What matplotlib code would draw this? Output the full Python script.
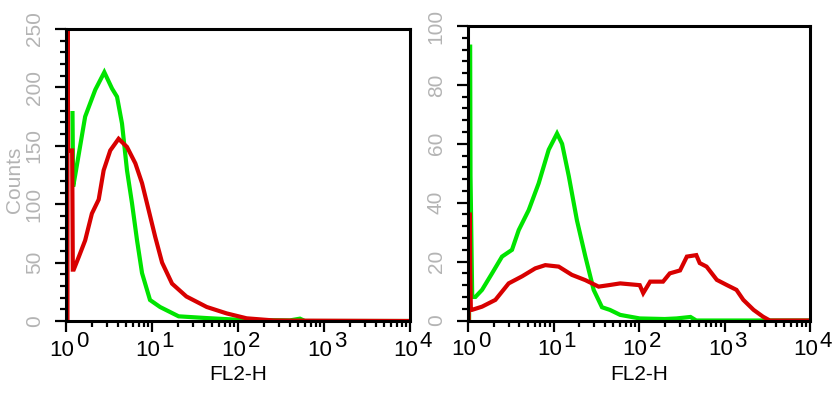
import matplotlib
matplotlib.use("Agg")
import matplotlib.pyplot as plt
from matplotlib.ticker import FixedLocator, NullFormatter, MultipleLocator

plt.rcParams['font.family'] = ['Liberation Sans', 'DejaVu Sans']

# ---------------- data (FL2-H channel value, counts) ----------------
left_green_x = [1.19, 1.21, 1.28, 1.67, 2.19, 2.79, 3.43, 3.92, 4.48, 5.12, 5.85,
                6.70, 7.66, 9.48, 12.4, 20.4, 43.3, 105, 400, 525, 600, 10000]
left_green_y = [178, 115, 125, 175, 198, 213, 199, 192, 169, 129, 101,
                69, 41, 18, 12, 4, 2.5, 1, 0.5, 2, 0, 0]

left_red_x = [1.04, 1.04, 1.06, 1.18, 1.20, 1.23, 1.41, 1.67, 2.00, 2.40, 2.74, 3.27, 4.09,
              5.12, 6.40, 7.66, 9.14, 10.9, 13.1, 17.1, 25.1, 43.3, 73.8, 126, 257,
              500, 10000]
left_red_y = [0, 262, 146, 146, 44, 44, 55, 69, 92, 104, 129, 146, 156,
              149, 135, 118, 95, 72, 50, 32, 21, 12, 6.5, 2.3, 0.5,
              0.3, 0]

right_green_x = [1.03, 1.04, 1.06, 1.07, 1.12, 1.22, 1.46, 1.91, 2.50, 3.27, 3.92, 5.13,
                 6.71, 8.79, 11.0, 12.6, 15.1, 18.8, 23.6, 29.5, 36.9, 45.7, 60.3,
                 102, 200, 275, 400, 468, 10000]
right_green_y = [0, 93, 93, 49, 8, 8, 10.4, 16, 21.7, 24, 30.7, 37.5,
                 46.6, 58, 63.5, 60, 49, 34, 21.7, 10.4, 4.5, 3.6, 1.9,
                 0.7, 0.5, 0.7, 1.2, 0, 0]

right_red_x = [1.02, 1.03, 1.05, 1.06, 1.08, 1.11, 1.46, 2.09, 2.99, 4.29, 6.12, 8.02,
               11.5, 16.4, 23.6, 33.7, 44.3, 60.3, 102, 112, 135, 191, 229, 302,
               363, 468, 513, 617, 813, 1072, 1380, 1660, 2190, 2820, 3390, 10000]
right_red_y = [0, 36, 36, 17, 3.6, 3.6, 4.7, 7, 12.6, 15, 17.7, 18.8,
               18.3, 15.5, 13.7, 11.5, 12, 12.6, 12, 9.3, 13.2, 13.2, 16, 17,
               21.7, 22.2, 19.5, 18.3, 13.8, 12, 10.4, 7, 3.6, 1.3, 0, 0]

left_yticks = [0, 50, 100, 150, 200, 250]
right_yticks = [0, 20, 40, 60, 80, 100]
decades = [0, 1, 2, 3, 4]
x_label = "FL2-H"
y_label = "Counts"

GREEN = '#00e400'
RED = '#d80000'
GRAY = '#b4b4b4'
LW = 3.0

fig = plt.figure(figsize=(8.34, 3.95), dpi=100)
W, H = 834, 395


def axes_px(x0, y0, x1, y1):
    return fig.add_axes([x0 / W, 1 - y1 / H, (x1 - x0) / W, (y1 - y0) / H])


def style(ax, yticks, ymax, yminor):
    ax.set_xscale('log')
    ax.set_xlim(1, 1e4)
    ax.set_ylim(0, ymax)
    ax.xaxis.set_major_locator(FixedLocator([10 ** d for d in decades]))
    minors = [m * 10 ** d for d in decades[:-1] for m in range(2, 10)]
    ax.xaxis.set_minor_locator(FixedLocator(minors))
    ax.xaxis.set_major_formatter(NullFormatter())
    ax.xaxis.set_minor_formatter(NullFormatter())
    ax.set_yticks(yticks)
    ax.yaxis.set_minor_locator(MultipleLocator(yminor))
    for s in ax.spines.values():
        s.set_linewidth(2.2)
    ax.tick_params(which='major', direction='out', length=8, width=1.6)
    ax.tick_params(which='minor', direction='out', length=4.5, width=1.6)
    ax.tick_params(axis='y', which='major', labelsize=15, labelcolor=GRAY, pad=8)
    for lab in ax.get_yticklabels():
        lab.set_rotation(90)
        lab.set_va('center')
    for d in decades:
        ax.annotate("10", xy=(10 ** d, 0), xycoords=('data', 'axes fraction'),
                    xytext=(6, -25), textcoords='offset points',
                    ha='right', va='baseline', fontsize=16, color='black',
                    annotation_clip=False)
        ax.annotate(str(d), xy=(10 ** d, 0), xycoords=('data', 'axes fraction'),
                    xytext=(7, -19), textcoords='offset points',
                    ha='left', va='baseline', fontsize=16, color='black',
                    annotation_clip=False)
    ax.annotate(x_label, xy=(0.5, 0), xycoords='axes fraction',
                xytext=(0, -42.5), textcoords='offset points',
                ha='center', va='baseline', fontsize=15, color='black')


ax1 = axes_px(66, 29, 410, 321)
ax1.plot(left_green_x, left_green_y, color=GREEN, lw=LW, solid_joinstyle='miter')
ax1.plot(left_red_x, left_red_y, color=RED, lw=LW, solid_joinstyle='miter')
style(ax1, left_yticks, 250, 10)

ax2 = axes_px(468, 26, 810, 320.5)
ax2.plot(right_green_x, right_green_y, color=GREEN, lw=LW, solid_joinstyle='miter')
ax2.plot(right_red_x, right_red_y, color=RED, lw=LW, solid_joinstyle='miter')
style(ax2, right_yticks, 100, 4)

fig.text(14.5 / W, 1 - 180 / H, y_label, rotation=90, ha='center', va='center',
         fontsize=15, color=GRAY)

fig.savefig('out.png', dpi=100)
